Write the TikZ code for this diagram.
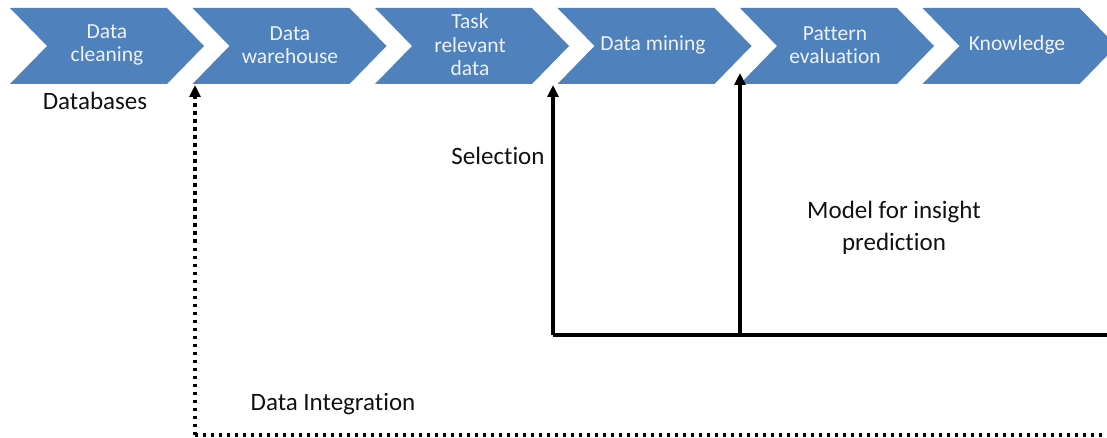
\documentclass[tikz,border=0pt]{standalone}
\usepackage{fontspec}
\setmainfont{Carlito}[Ligatures=NoCommon]
\usetikzlibrary{arrows.meta}
\definecolor{chevblue}{HTML}{4F81BD}
\definecolor{chevtext}{HTML}{EEF2F8}
\definecolor{labtext}{HTML}{111111}
\tikzset{
  chevtxt/.style={text=chevtext,font=\fontsize{21.5}{23.5}\selectfont,align=center,inner sep=0pt},
  labtxt/.style={text=labtext,font=\fontsize{25}{32}\selectfont,align=center,inner sep=0pt},
  solidarrow/.style={line width=3.5pt,-{Triangle[length=12pt,width=11pt]}},
  solidline/.style={line width=3.5pt},
  dotline/.style={line width=3.5pt,dash pattern=on 3.5pt off 4.5pt},
  dotarrow/.style={dotline,-{Triangle[length=12pt,width=11pt]}},
}
\begin{document}
\begin{tikzpicture}[x=1pt,y=-1pt]
\useasboundingbox (0,0) rectangle (1107,438);
\clip (0,0) rectangle (1107,438);
% chevrons
\foreach \x in {10,192.5,375,557.5,740,922.5}{
  \fill[chevblue] (\x,8) -- ++(157,0) -- ++(37,38) -- ++(-37,38) -- ++(-157,0) -- ++(37,-38) -- cycle;
}
\node[chevtxt] (c1) at (107,45) {Data\\cleaning};
\node[chevtxt] (c2) at (290,45) {Data\\warehouse};
\node[chevtxt] (c3) at (470,45) {Task\\relevant\\data};
\node[chevtxt] (c4) at (653,45) {Data mining};
\node[chevtxt] (c5) at (835,45) {Pattern\\evaluation};
\node[chevtxt] (c6) at (1017,45) {Knowledge};
% labels
\node[labtxt] (db) at (95,101) {Databases};
\node[labtxt] (sel) at (498,156) {Selection};
\node[labtxt] (model) at (894,228) {Model for insight\\prediction};
\node[labtxt] (integ) at (333,404) {Data Integration};
% solid connectors
\coordinate (selbase) at (553,335);
\coordinate (seltip) at (553,85);
\coordinate (minbase) at (740,335);
\coordinate (mintip) at (740,73);
\coordinate (rightend) at (1110,335);
\draw[solidline] (selbase) -- (rightend);
\draw[solidarrow] (selbase) -- (seltip);
\draw[solidarrow] (minbase) -- (mintip);
% dotted connector
\coordinate (dotcorner) at (195,435);
\coordinate (dotright) at (1110,435);
\coordinate (dottip) at (195,85);
\draw[dotline] (dotright) -- (dotcorner);
\draw[dotarrow] (dotcorner) -- (dottip);
\end{tikzpicture}
\end{document}
